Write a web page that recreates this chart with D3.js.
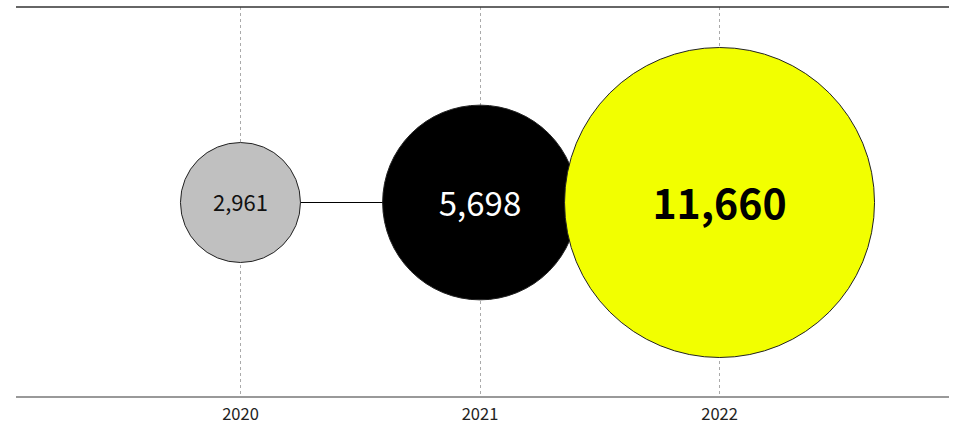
<!DOCTYPE html>
<html>
<head>
<meta charset="utf-8">
<script src="https://cdn.jsdelivr.net/npm/d3@7"></script>
<style>
    body { margin: 0; background: #ffffff; }
    svg { display: block; font-family: "Noto Sans CJK KR", "Noto Sans", sans-serif; }
</style>
</head>
<body>
<div id="chart"></div>
<script>
// chart data
const years = ["2020", "2021", "2022"];
const values = [2961, 5698, 11660];

// look of each bubble
const fills = ["#c0c0c0", "#000000", "#f2ff00"];
const labelColors = ["#111111", "#ffffff", "#000000"];
const labelSizes = [22, 33, 41];
const labelWeights = ["normal", "normal", "bold"];

/**
 * Draws the bubble timeline.
 */
window.onload = function() {
    let w = 959;
    let h = 423;
    let margins = {top: 7, bottom: 26, left: 16, right: 10};

    let svg = d3.select("#chart")
                .append("svg")
                .attr("width", w)
                .attr("height", h);

    // x positions of the years
    let xScale = d3.scalePoint()
                   .domain(years)
                   .range([margins.left, w - margins.right - 6])
                   .padding(0.935);

    let yMid = (margins.top + (h - margins.bottom)) / 2 + 0.5;

    // bubble size, sqrt scale between smallest and largest value
    let rScale = d3.scaleSqrt()
                   .domain([d3.min(values), d3.max(values)])
                   .range([60, 155]);

    // dashed year gridlines
    svg.append("g")
       .selectAll("line")
       .data(years)
       .enter()
       .append("line")
       .attr("x1", d => Math.round(xScale(d)) + 0.5)
       .attr("x2", d => Math.round(xScale(d)) + 0.5)
       .attr("y1", margins.top)
       .attr("y2", h - margins.bottom)
       .attr("stroke", "#aaaaaa")
       .attr("stroke-dasharray", "3,3");

    // top rule
    svg.append("line")
       .attr("x1", margins.left)
       .attr("x2", w - margins.right)
       .attr("y1", margins.top)
       .attr("y2", margins.top)
       .attr("stroke", "#333333")
       .attr("stroke-width", 1.5);

    // bottom axis
    let axis = svg.append("g")
                  .attr("transform", "translate(0," + (h - margins.bottom) + ")")
                  .call(d3.axisBottom(xScale).tickSize(0).tickPadding(11));
    axis.select(".domain")
        .attr("d", "M" + margins.left + ",0H" + (w - margins.right))
        .attr("stroke", "#777777")
        .attr("stroke-width", 1.5);
    axis.selectAll("text")
        .style("font-family", "'Noto Sans CJK KR', 'Noto Sans', sans-serif")
        .style("font-size", "16.5px")
        .attr("fill", "#222222");

    // connector line between the bubbles
    svg.append("line")
       .attr("x1", xScale(years[0]))
       .attr("x2", xScale(years[years.length - 1]))
       .attr("y1", yMid)
       .attr("y2", yMid)
       .attr("stroke", "#000000")
       .attr("stroke-width", 1);

    let bubbles = svg.append("g")
                     .selectAll("g")
                     .data(years)
                     .enter()
                     .append("g")
                     .attr("transform", d => "translate(" + (xScale(d) + 0.5) + "," + yMid + ")");

    bubbles.append("circle")
           .attr("r", (d, i) => rScale(values[i]))
           .attr("fill", (d, i) => fills[i])
           .attr("stroke", "#222222")
           .attr("stroke-width", 1);

    bubbles.append("text")
           .attr("text-anchor", "middle")
           .attr("dy", "0.4em")
           .attr("fill", (d, i) => labelColors[i])
           .style("font-size", (d, i) => labelSizes[i] + "px")
           .style("font-weight", (d, i) => labelWeights[i])
           .text((d, i) => d3.format(",")(values[i]));
};
</script>
</body>
</html>
